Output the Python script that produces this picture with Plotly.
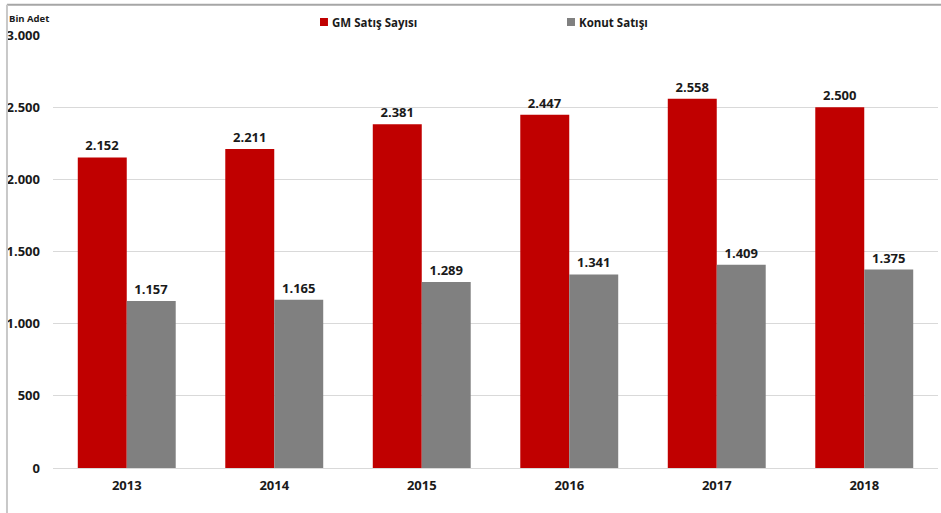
import plotly.graph_objects as go

years = ["2013", "2014", "2015", "2016", "2017", "2018"]
gm_satis = [2152, 2211, 2381, 2447, 2558, 2500]
konut_satis = [1157, 1165, 1289, 1341, 1409, 1375]
tick_vals = [0, 500, 1000, 1500, 2000, 2500, 3000]
tick_text = ["0", "500", "1.000", "1.500", "2.000", "2.500", "3.000"]
series_names = ["GM Satış Sayısı", "Konut Satışı"]
series_colors = ["#c00000", "#808080"]

FONT = "Open Sans"

fig = go.Figure()
for name, vals, col in zip(series_names, [gm_satis, konut_satis], series_colors):
    fig.add_trace(go.Bar(
        x=years, y=vals, name=name,
        marker=dict(color=col, line=dict(width=0)),
        texttemplate="<b>%{y:,.0f}</b>", textposition="outside",
        textfont=dict(family=FONT, size=13, color="#1a1a1a"),
        cliponaxis=False,
    ))

# custom legend (square marker + bold label)
legend_x = [0.3017, 0.5808]
shapes = [
    dict(type="line", xref="paper", yref="paper", x0=-0.052, x1=1.01,
         y0=1.070, y1=1.070, line=dict(color="#a6a6a6", width=2), layer="above"),
    dict(type="line", xref="paper", yref="paper", x0=-0.052, x1=-0.052,
         y0=-0.11, y1=1.070, line=dict(color="#c8c8c8", width=2), layer="above"),
]
annotations = [dict(
    text="<b>Bin Adet</b>", xref="paper", yref="paper",
    x=-0.052, y=1.037, xanchor="left", yanchor="middle", showarrow=False,
    font=dict(family=FONT, size=9.5, color="#1a1a1a"),
)]
for lx, name, col in zip(legend_x, series_names, series_colors):
    shapes.append(dict(type="rect", xref="paper", yref="paper",
                       x0=lx, x1=lx + 0.009, y0=1.0208, y1=1.0393,
                       fillcolor=col, line=dict(width=0)))
    annotations.append(dict(
        text="<b>" + name + "</b>", xref="paper", yref="paper",
        x=lx + 0.0115, y=1.030, xanchor="left", yanchor="middle",
        showarrow=False, font=dict(family=FONT, size=11.5, color="#1a1a1a"),
    ))

fig.update_layout(
    width=941, height=513,
    margin=dict(l=53, r=3, t=35, b=45, autoexpand=False),
    paper_bgcolor="white", plot_bgcolor="white",
    separators=",.",
    barmode="group", bargap=0.336, bargroupgap=0,
    font=dict(family=FONT, color="#1a1a1a"),
    showlegend=False,
    xaxis=dict(
        showgrid=False, showline=False, ticks="",
        tickfont=dict(family=FONT, size=13, color="#1a1a1a"),
        tickprefix="<b>", ticksuffix="</b>", ticklabelstandoff=8,
    ),
    yaxis=dict(
        range=[0, 3000], tickvals=tick_vals,
        ticktext=["<b>" + t + "</b>" for t in tick_text],
        showgrid=True, gridcolor="#d9d9d9", gridwidth=1,
        zeroline=True, zerolinecolor="#d9d9d9", zerolinewidth=1,
        showline=False, ticks="", ticklabelstandoff=12,
        tickfont=dict(family=FONT, size=13, color="#1a1a1a"),
    ),
    annotations=annotations,
    shapes=shapes,
)

fig.write_html("out.html")
